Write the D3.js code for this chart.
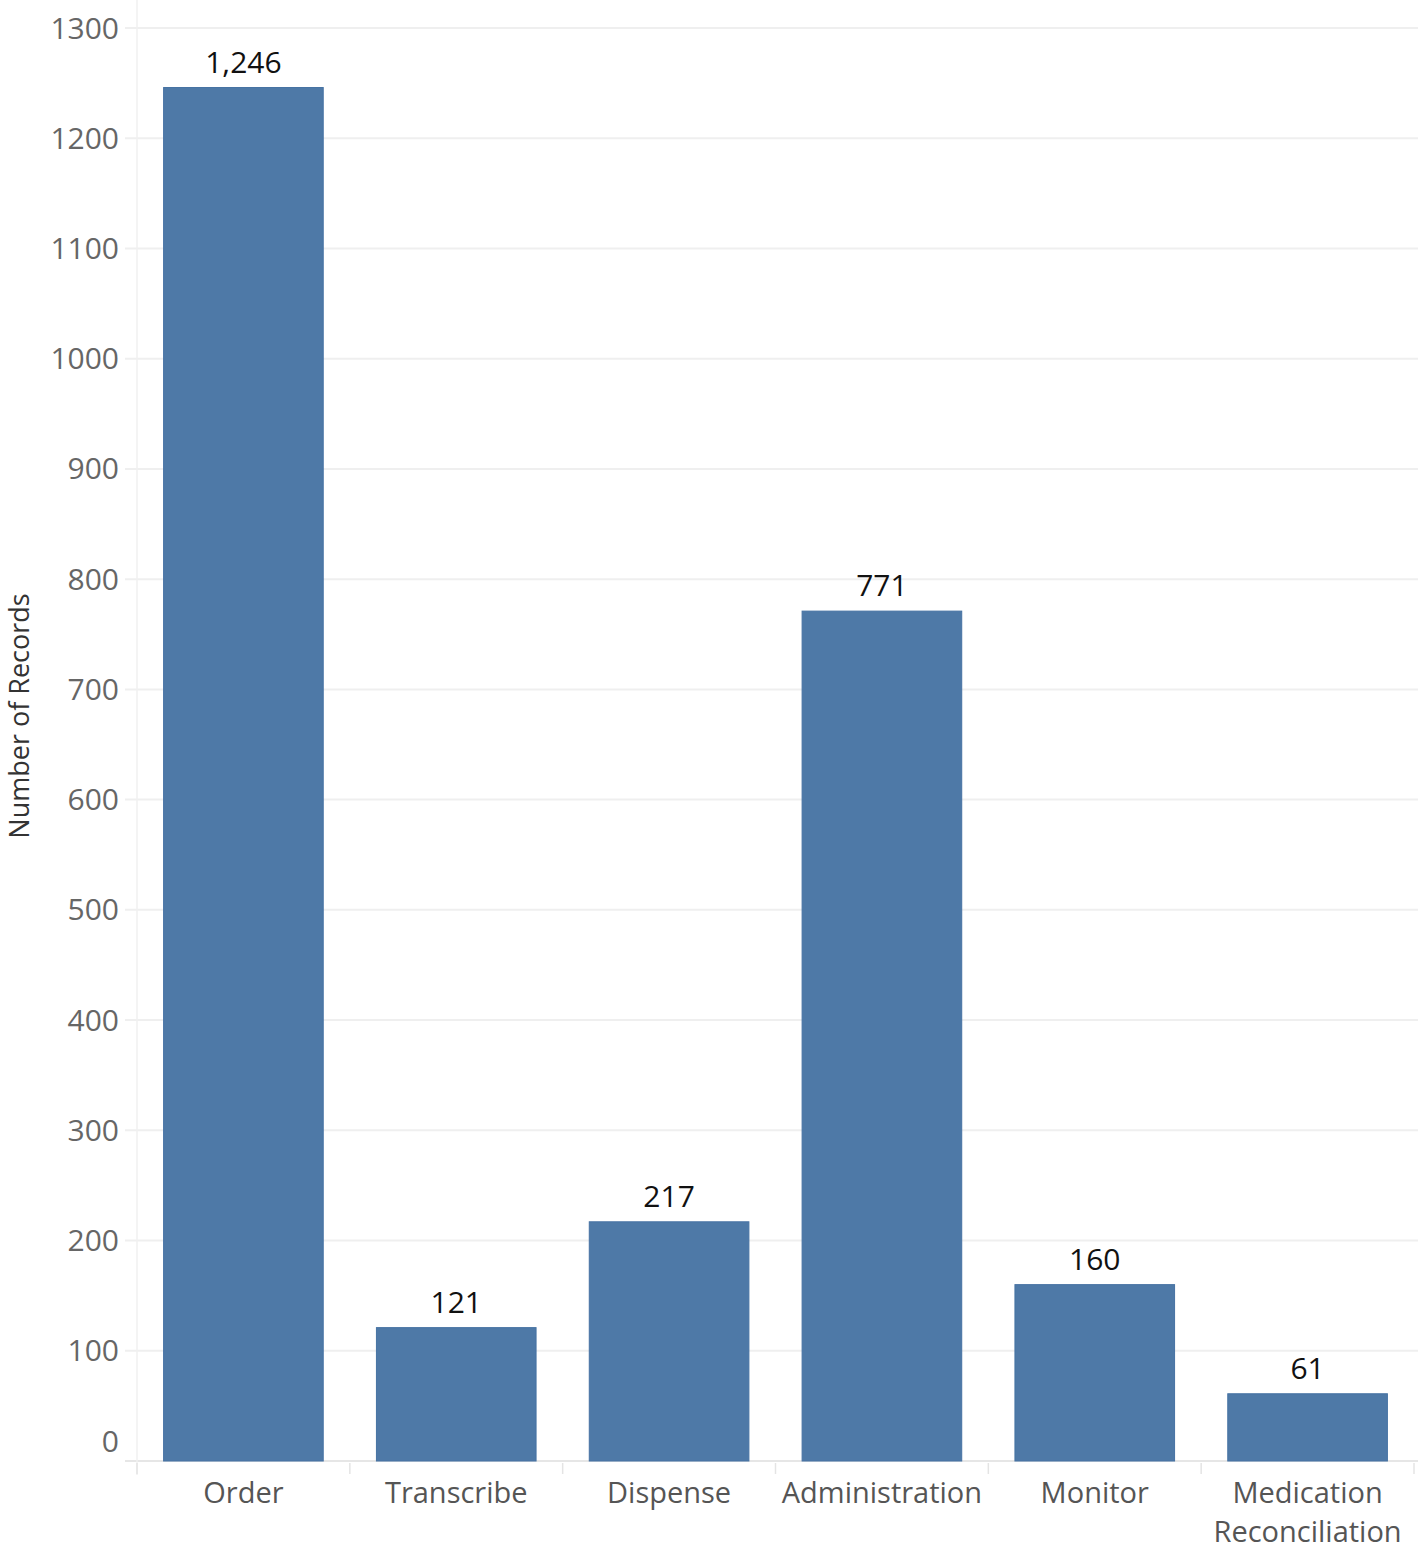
<!DOCTYPE html>
<html lang="en">
<head>
<meta charset="UTF-8" />
<script src="https://d3js.org/d3.v7.min.js"></script>
<style>
  body { margin: 0; background: #fff; }
  svg text { font-family: "Open Sans", "Noto Sans", sans-serif; }
</style>
</head>
<body>
<script>
// chart data
const categories = ["Order", "Transcribe", "Dispense", "Administration", "Monitor", "Medication Reconciliation"];
const records = [1246, 121, 217, 771, 160, 61];
const yTicks = [0, 100, 200, 300, 400, 500, 600, 700, 800, 900, 1000, 1100, 1200, 1300];

const width = 1418, height = 1549;
const plotLeft = 137, plotRight = 1414, plotTop = 28, plotBottom = 1461;

const svg = d3.select("body").append("svg")
  .attr("width", width)
  .attr("height", height);

const x = d3.scaleBand().domain(categories).range([plotLeft, plotRight]).paddingInner(0.25).paddingOuter(0.125);
const y = d3.scaleLinear().domain([0, 1300]).range([plotBottom, plotTop]);

// gridlines
svg.append("g")
  .selectAll("line")
  .data(yTicks)
  .join("line")
  .attr("x1", 125).attr("x2", width)
  .attr("y1", d => y(d)).attr("y2", d => y(d))
  .attr("stroke", d => d === 0 ? "#e6e6e6" : "#efefef")
  .attr("stroke-width", 2);

// vertical axis line
svg.append("line")
  .attr("x1", plotLeft).attr("x2", plotLeft)
  .attr("y1", 0).attr("y2", plotBottom + 14)
  .attr("stroke", "#f0f0f0").attr("stroke-width", 1.5);

// category separators under axis
const seps = categories.map((c, i) => plotLeft + i * (plotRight - plotLeft) / categories.length).concat([plotRight]);
svg.append("g")
  .selectAll("line")
  .data(seps)
  .join("line")
  .attr("x1", d => d).attr("x2", d => d)
  .attr("y1", plotBottom + 2).attr("y2", plotBottom + 13)
  .attr("stroke", "#e4e4e4").attr("stroke-width", 1.5);

// y tick labels
svg.append("g")
  .selectAll("text")
  .data(yTicks)
  .join("text")
  .attr("x", 119)
  .attr("y", d => d === 0 ? y(d) - 20 : y(d))
  .attr("dy", "0.35em")
  .attr("text-anchor", "end")
  .attr("font-size", 30)
  .attr("fill", "#666")
  .text(d => d);

// y axis title
svg.append("text")
  .attr("transform", "translate(29,716) rotate(-90)")
  .attr("text-anchor", "middle")
  .attr("font-size", 27)
  .attr("fill", "#333")
  .text("Number of Records");

// bars
svg.append("g")
  .selectAll("rect")
  .data(categories)
  .join("rect")
  .attr("x", d => x(d))
  .attr("width", x.bandwidth())
  .attr("y", (d, i) => y(records[i]))
  .attr("height", (d, i) => y(0) - y(records[i]))
  .attr("fill", "#4e79a7")
  .attr("stroke", "#4672a3")
  .attr("stroke-width", 1);

// value labels
svg.append("g")
  .selectAll("text")
  .data(categories)
  .join("text")
  .attr("x", d => x(d) + x.bandwidth() / 2)
  .attr("y", (d, i) => y(records[i]) - 15)
  .attr("text-anchor", "middle")
  .attr("font-size", 30)
  .attr("fill", "#111")
  .text((d, i) => d3.format(",")(records[i]));

// category labels, one text per line
const catLines = [];
categories.forEach(c => {
  c.split(" ").forEach((w, i) => catLines.push({ cat: c, word: w, line: i }));
});

svg.append("g")
  .selectAll("text")
  .data(catLines)
  .join("text")
  .attr("x", d => x(d.cat) + x.bandwidth() / 2)
  .attr("y", d => plotBottom + 42 + d.line * 39)
  .attr("text-anchor", "middle")
  .attr("font-size", 29)
  .attr("fill", "#555")
  .text(d => d.word);
</script>
</body>
</html>
